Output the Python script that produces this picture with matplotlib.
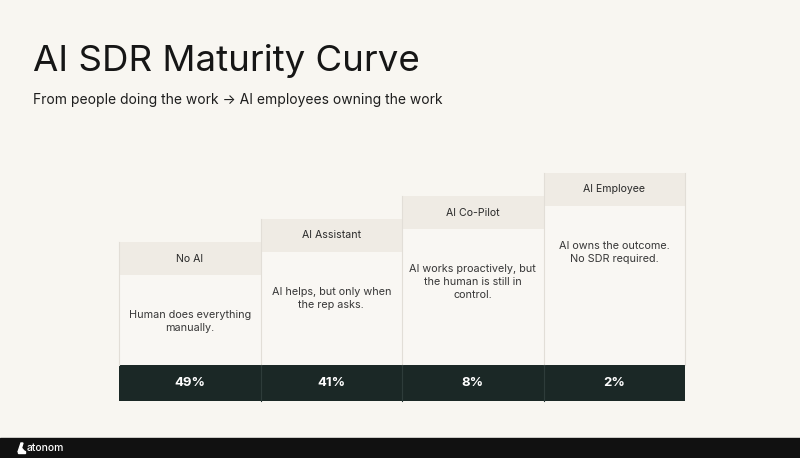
import matplotlib.pyplot as plt
from matplotlib.patches import Rectangle, Polygon

plt.rcParams['font.family'] = ['Inter', 'DejaVu Sans']

stages = ['No AI', 'AI Assistant', 'AI Co-Pilot', 'AI Employee']
descriptions = [
    'Human does everything\nmanually.',
    'AI helps, but only when\nthe rep asks.',
    'AI works proactively, but\nthe human is still in\ncontrol.',
    'AI owns the outcome.\nNo SDR required.',
]
shares = [49, 41, 8, 2]

bg = '#f8f6f1'
header_c = '#efebe4'
body_c = '#f9f7f3'
band_c = '#1b2826'
line_c = '#e2ded7'

W, H = 800, 458
fig = plt.figure(figsize=(8, 4.58), dpi=100, facecolor=bg)
ax = fig.add_axes([0, 0, 1, 1])
ax.set_xlim(0, W)
ax.set_ylim(H, 0)
ax.axis('off')

left, right = 119, 685
col_w = (right - left) / len(stages)
base_top = 242      # header top of first column
step = 23           # rise per stage
head_h = 33
body_bottom = 365
band_bottom = 401

centers = [left + col_w * (i + 0.5) for i in range(len(stages))]
tops = [base_top - step * i for i in range(len(stages))]

# header cells
ax.bar(centers, head_h, bottom=tops, width=col_w, color=header_c,
       edgecolor='none', align='center')
# body cells
body_tops = [t + head_h for t in tops]
ax.bar(centers, [body_bottom - b for b in body_tops], bottom=body_tops,
       width=col_w, color=body_c, edgecolor='none')
# dark band
ax.bar(centers, band_bottom - body_bottom, bottom=body_bottom, width=col_w,
       color=band_c, edgecolor='none')

# column separators
for i in range(len(stages) + 1):
    x = left + col_w * i
    top = tops[min(i, len(stages) - 1)]
    ax.plot([x, x], [top, body_bottom], color=line_c, lw=0.8)
    if 0 < i < len(stages):
        ax.plot([x, x], [body_bottom, band_bottom - 0.5], color='#2e3c3a', lw=0.8)

for c, t, name, desc, s in zip(centers, tops, stages, descriptions, shares):
    ax.text(c, t + head_h / 2, name, ha='center', va='center',
            fontsize=7.6, color='#2a2a2a')
    ax.text(c, t + head_h + 35, desc, ha='center', va='top',
            fontsize=7.8, color='#383838', linespacing=1.4)
    ax.text(c, (body_bottom + band_bottom) / 2, f'{s}%', ha='center',
            va='center', fontsize=9.5, color='white', fontweight='bold')

# titles
ax.text(33, 61, 'AI SDR Maturity Curve', fontsize=26.4, color='#161616',
        va='center', ha='left')
ax.text(33, 100, 'From people doing the work → AI employees owning the work',
        fontsize=10, color='#1e1e1e', va='center', ha='left')

# footer
ax.add_patch(Rectangle((0, 438), W, H - 438, color='#111111'))
ax.add_patch(Polygon([(18, 452), (21, 443), (23, 443), (21.5, 448), (25, 452)],
                     closed=True, color='white'))
ax.add_patch(Rectangle((18, 451), 7, 1.5, color='white'))
ax.text(27, 448, 'atonom', fontsize=7.5, color='white', va='center',
        ha='left', fontweight='medium')

fig.savefig('out.png', dpi=100, facecolor=bg)
